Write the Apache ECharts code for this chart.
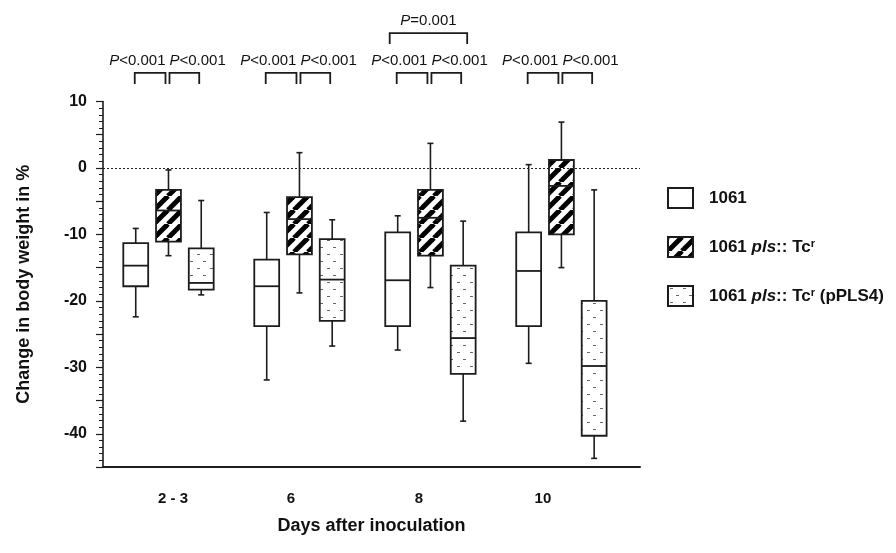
<!DOCTYPE html>
<html>
<head>
<meta charset="utf-8">
<script src="https://cdn.jsdelivr.net/npm/echarts@6/dist/echarts.min.js"></script>
<style>
html, body { margin: 0; background: #fff; }
#chart { width: 896px; height: 553px; }
</style>
</head>
<body>
<div id="chart"></div>
<script>
var days = ['2 - 3', '6', '8', '10'];
var seriesNames = ['1061', '1061 pls:: Tcr', '1061 pls:: Tcr (pPLS4)'];
// [min, q1, median, q3, max] per day
var wildType = [[-22.4, -17.8, -14.7, -11.3, -9.1], [-31.9, -23.8, -17.8, -13.8, -6.7], [-27.4, -23.8, -16.9, -9.7, -7.2], [-29.4, -23.8, -15.5, -9.7, 0.5]];
var mutant = [[-13.2, -11.1, -6.4, -3.3, -0.3], [-18.8, -13.0, -7.7, -4.4, 2.3], [-18.0, -13.2, -7.5, -3.3, 3.7], [-15.0, -10.0, -2.7, 1.2, 6.9]];
var complemented = [[-19.1, -18.3, -17.3, -12.1, -4.9], [-26.8, -23.0, -16.8, -10.7, -7.8], [-38.1, -31.0, -25.6, -14.7, -8.0], [-43.7, -40.3, -29.8, -20.0, -3.3]];
// [day, from box, to box, bracket level, p text]
var comparisons = [
    [0, 0, 1, 0, '<0.001'], [0, 1, 2, 0, '<0.001'],
    [1, 0, 1, 0, '<0.001'], [1, 1, 2, 0, '<0.001'],
    [2, 0, 1, 0, '<0.001'], [2, 1, 2, 0, '<0.001'],
    [3, 0, 1, 0, '<0.001'], [3, 1, 2, 0, '<0.001'],
    [2, 0, 2, 1, '=0.001']
];

var FONT = '"Liberation Sans", Arial, Helvetica, sans-serif';
var INK = '#1c1c1c';

function makePattern(kind) {
    var c = document.createElement('canvas');
    var ctx = c.getContext('2d');
    if (kind === 'hatch') {
        var p = 14;
        c.width = p; c.height = p;
        ctx.fillStyle = '#fff';
        ctx.fillRect(0, 0, p, p);
        ctx.strokeStyle = '#000';
        ctx.lineWidth = 5;
        for (var k = -1; k <= 1; k++) {
            ctx.beginPath();
            ctx.moveTo(k * p, p);
            ctx.lineTo(k * p + p, 0);
            ctx.stroke();
        }
    } else {
        c.width = 13; c.height = 14;
        ctx.fillStyle = '#fff';
        ctx.fillRect(0, 0, 13, 14);
        ctx.fillStyle = '#666';
        ctx.fillRect(2, 2, 3, 1);
        ctx.fillRect(8, 9, 3, 1);
    }
    return { image: c, repeat: 'repeat' };
}

var fills = ['#fff', makePattern('hatch'), makePattern('dots')];
var groups = [wildType, mutant, complemented];

function boxData(values, k) {
    return values.map(function (v, g) {
        return [g * 4 + k].concat(v);
    });
}

function renderBox(params, api) {
    var x = api.value(0);
    var lo = api.coord([x, api.value(1)]);
    var q1 = api.coord([x, api.value(2)]);
    var md = api.coord([x, api.value(3)]);
    var q3 = api.coord([x, api.value(4)]);
    var hi = api.coord([x, api.value(5)]);
    var cx = lo[0];
    var w = api.size([1, 0])[0] * 0.76;
    var st = { stroke: INK, lineWidth: 1.6 };
    return {
        type: 'group',
        children: [
            { type: 'line', shape: { x1: cx, y1: hi[1], x2: cx, y2: q3[1] }, style: st },
            { type: 'line', shape: { x1: cx, y1: q1[1], x2: cx, y2: lo[1] }, style: st },
            { type: 'line', shape: { x1: cx - 3, y1: hi[1], x2: cx + 3, y2: hi[1] }, style: st },
            { type: 'line', shape: { x1: cx - 3, y1: lo[1], x2: cx + 3, y2: lo[1] }, style: st },
            {
                type: 'rect',
                shape: { x: cx - w / 2, y: q3[1], width: w, height: q1[1] - q3[1] },
                style: { fill: fills[params.seriesIndex], stroke: INK, lineWidth: 1.8 }
            },
            { type: 'line', shape: { x1: cx - w / 2, y1: md[1], x2: cx + w / 2, y2: md[1] }, style: { stroke: INK, lineWidth: 1.8 } }
        ]
    };
}

var bracketTop = [14.3, 20.3];

function renderBracket(params, api) {
    var cmp = comparisons[params.dataIndex];
    var level = cmp[3];
    var a = api.coord([api.value(0), api.value(2)]);
    var b = api.coord([api.value(1), api.value(2)]);
    var x1, x2, tx, align;
    if (level === 1) {
        x1 = a[0] - 8; x2 = b[0] + 4; tx = (x1 + x2) / 2; align = 'center';
    } else if (cmp[1] === 0) {
        x1 = a[0] - 1; x2 = b[0] - 3; tx = x2; align = 'right';
    } else {
        x1 = a[0] + 1; x2 = b[0] - 2; tx = x1; align = 'left';
    }
    var top = a[1];
    return {
        type: 'group',
        children: [
            {
                type: 'polyline',
                shape: { points: [[x1, top + 11], [x1, top], [x2, top], [x2, top + 11]] },
                style: { stroke: INK, lineWidth: 1.8, fill: null }
            },
            {
                type: 'text',
                style: {
                    text: '{i|P}{n|' + cmp[4] + '}',
                    x: tx, y: top - 12,
                    align: align, verticalAlign: 'middle',
                    rich: {
                        i: { fontStyle: 'italic', fontSize: 15, fontFamily: FONT, fill: '#111' },
                        n: { fontSize: 15, fontFamily: FONT, fill: '#111' }
                    }
                }
            }
        ]
    };
}

var legendText = {
    '1061': '{b|1061}',
    '1061 pls:: Tcr': '{b|1061 }{i|pls}{b|:: Tc}{s|r}',
    '1061 pls:: Tcr (pPLS4)': '{b|1061 }{i|pls}{b|:: Tc}{s|r}{b| (pPLS4)}'
};
var labelRich = {
    l0: { padding: [0, 0, 0, 9] },
    l1: { padding: [0, 17, 0, 0] },
    l2: { padding: [0, 23, 0, 0] },
    l3: { padding: [0, 37, 0, 0] }
};
Object.keys(labelRich).forEach(function (k) {
    labelRich[k].fontSize = 15;
    labelRich[k].fontWeight = 'bold';
    labelRich[k].fontFamily = FONT;
    labelRich[k].color = '#111';
});

var myChart = echarts.init(document.getElementById('chart'));
var series = groups.map(function (vals, k) {
    var s = {
        name: seriesNames[k],
        type: 'custom',
        renderItem: renderBox,
        itemStyle: { color: fills[k], borderColor: INK, borderWidth: 1.8 },
        encode: { x: 0, y: [1, 2, 3, 4, 5] },
        data: boxData(vals, k),
        z: 3
    };
    if (k === 0) {
        s.markLine = {
            silent: true,
            symbol: 'none',
            label: { show: false },
            lineStyle: { type: [2, 2], color: '#222', width: 1 },
            data: [{ yAxis: 0 }]
        };
    }
    return s;
});
series.push({
    type: 'custom',
    renderItem: renderBracket,
    clip: false,
    encode: { x: [0, 1], y: 2 },
    data: comparisons.map(function (c) {
        return [c[0] * 4 + c[1], c[0] * 4 + c[2], bracketTop[c[3]]];
    })
});

option = {
    animation: false,
    grid: { left: 103, right: 256, top: 101.5, bottom: 86 },
    legend: {
        data: seriesNames,
        orient: 'vertical',
        left: 662,
        top: 182,
        itemWidth: 25,
        itemHeight: 20,
        itemGap: 27,
        icon: 'rect',
        selectedMode: false,
        formatter: function (name) { return legendText[name]; },
        textStyle: {
            padding: [0, 0, 0, 11],
            rich: {
                b: { fontSize: 17, fontWeight: 'bold', fontFamily: FONT, color: '#111' },
                i: { fontSize: 17, fontWeight: 'bold', fontStyle: 'italic', fontFamily: FONT, color: '#111' },
                s: { fontSize: 11, fontWeight: 'bold', fontFamily: FONT, color: '#111', verticalAlign: 'top' }
            }
        }
    },
    xAxis: {
        type: 'value',
        min: -1,
        max: 15.4,
        interval: 1,
        name: 'Days after inoculation',
        nameLocation: 'middle',
        nameGap: 50,
        nameTextStyle: { fontSize: 18, fontWeight: 'bold', fontFamily: FONT, color: '#111' },
        axisLine: { onZero: false, lineStyle: { color: INK, width: 2 } },
        axisTick: { show: false },
        splitLine: { show: false },
        axisLabel: {
            margin: 24,
            showMinLabel: true,
            showMaxLabel: true,
            formatter: function (v) {
                var g = (v - 1) / 4;
                if (Math.abs(g - Math.round(g)) < 1e-6 && days[Math.round(g)]) {
                    return '{l' + Math.round(g) + '|' + days[Math.round(g)] + '}';
                }
                return '';
            },
            rich: labelRich
        }
    },
    yAxis: {
        type: 'value',
        min: -45,
        max: 10,
        interval: 5,
        name: 'Change in body weight in %',
        nameLocation: 'middle',
        nameGap: 70,
        nameTextStyle: { fontSize: 18, fontWeight: 'bold', fontFamily: FONT, color: '#111' },
        axisLine: { show: true, onZero: false, lineStyle: { color: INK, width: 1.6 } },
        axisTick: { show: true, length: 7, lineStyle: { color: INK, width: 1.2 } },
        minorTick: { show: true, splitNumber: 5, length: 4, lineStyle: { color: INK, width: 1 } },
        splitLine: { show: false },
        axisLabel: {
            margin: 16,
            fontSize: 16,
            fontWeight: 'bold',
            fontFamily: FONT,
            color: '#111',
            formatter: function (v) { return v % 10 === 0 ? String(v) : ''; }
        }
    },
    series: series
};

option && myChart.setOption(option);
</script>
</body>
</html>
